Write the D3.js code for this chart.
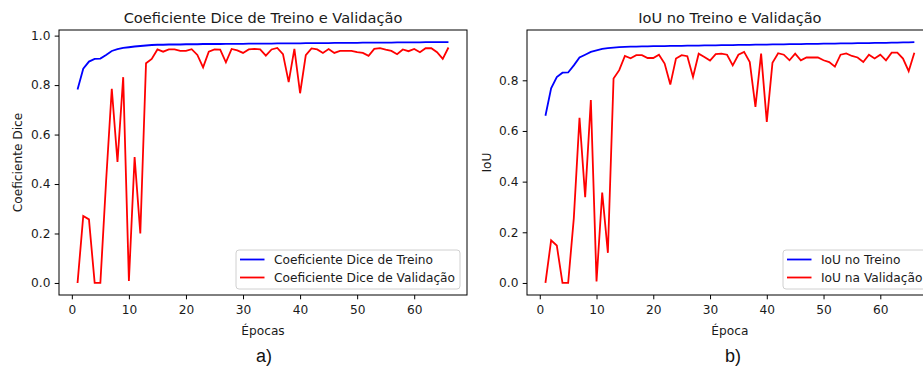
<!DOCTYPE html>
<html><head><meta charset="utf-8">
<script src="https://cdn.jsdelivr.net/npm/d3@7"></script>
<style>body{margin:0;background:#fff;overflow:hidden}svg{display:block}text{font-family:"DejaVu Sans",sans-serif;fill:#1a1a1a}</style>
</head><body><svg id="c" width="923" height="367"></svg>
<script>
const epochs = d3.range(1, 67);
const diceTrain = [0.782,0.866,0.895,0.906,0.907,0.922,0.938,0.945,0.950,0.953,0.956,0.958,0.960,0.962,0.963,0.963,0.964,0.964,0.964,0.965,0.965,0.965,0.966,0.966,0.966,0.966,0.967,0.967,0.967,0.967,0.968,0.968,0.968,0.968,0.968,0.969,0.969,0.969,0.969,0.969,0.970,0.970,0.970,0.970,0.970,0.971,0.971,0.971,0.971,0.971,0.972,0.972,0.972,0.972,0.972,0.972,0.973,0.973,0.973,0.973,0.973,0.974,0.974,0.974,0.974,0.974];
const diceVal = [0.0,0.271,0.257,0.0,0.0,0.41,0.785,0.489,0.832,0.008,0.509,0.200,0.888,0.906,0.944,0.935,0.944,0.944,0.938,0.938,0.945,0.922,0.872,0.935,0.944,0.943,0.892,0.946,0.940,0.930,0.944,0.946,0.944,0.919,0.944,0.950,0.925,0.812,0.946,0.767,0.921,0.948,0.944,0.930,0.946,0.930,0.938,0.938,0.938,0.933,0.930,0.918,0.946,0.949,0.943,0.938,0.925,0.944,0.937,0.946,0.933,0.949,0.949,0.933,0.906,0.952];
const iouTrain = [0.660,0.768,0.813,0.830,0.831,0.859,0.890,0.901,0.912,0.918,0.924,0.927,0.929,0.931,0.932,0.933,0.933,0.934,0.934,0.935,0.935,0.935,0.936,0.936,0.936,0.937,0.937,0.937,0.938,0.938,0.938,0.939,0.939,0.939,0.940,0.940,0.940,0.941,0.941,0.941,0.942,0.942,0.942,0.943,0.943,0.943,0.944,0.944,0.944,0.945,0.945,0.945,0.946,0.946,0.946,0.947,0.947,0.947,0.948,0.948,0.948,0.949,0.949,0.950,0.950,0.951];
const iouVal = [0.0,0.168,0.148,0.0,0.0,0.256,0.652,0.339,0.722,0.006,0.357,0.119,0.807,0.840,0.896,0.887,0.899,0.899,0.888,0.888,0.901,0.866,0.783,0.886,0.899,0.895,0.813,0.905,0.892,0.878,0.903,0.905,0.901,0.859,0.901,0.912,0.872,0.695,0.905,0.636,0.869,0.907,0.901,0.879,0.905,0.879,0.890,0.890,0.890,0.879,0.872,0.854,0.901,0.906,0.896,0.890,0.872,0.901,0.886,0.901,0.879,0.909,0.909,0.886,0.836,0.909];
const xTicks = [0,10,20,30,40,50,60];
const diceYTicks = [0.0,0.2,0.4,0.6,0.8,1.0];
const iouYTicks = [0.0,0.2,0.4,0.6,0.8];

const svg = d3.select("#c");
const FS = 12.2;

function panel(o) {
  const x = d3.scaleLinear().domain([1 - 3.25, 66 + 3.25]).range([o.left, o.right]);
  const ymax = d3.max(o.train.concat(o.val)), ymin = 0, m = (ymax - ymin) * 0.05;
  const y = d3.scaleLinear().domain([ymin - m, ymax + m]).range([295, 30]);
  const g = svg.append("g");
  const line = d3.line().x((d, i) => x(epochs[i])).y(d => y(d));
  g.append("path").datum(o.train).attr("d", line).attr("fill", "none").attr("stroke", "#0000ff").attr("stroke-width", 1.8);
  g.append("path").datum(o.val).attr("d", line).attr("fill", "none").attr("stroke", "#ff0000").attr("stroke-width", 1.8);
  g.append("rect").attr("x", o.left).attr("y", 30).attr("width", o.right - o.left).attr("height", 265)
    .attr("fill", "none").attr("stroke", "#000").attr("stroke-width", 1);
  const ax = g.append("g").attr("transform", "translate(0,295)")
    .call(d3.axisBottom(x).tickValues(xTicks).tickSize(4.3).tickPadding(6.5).tickFormat(d3.format("d")));
  const ay = g.append("g").attr("transform", `translate(${o.left},0)`)
    .call(d3.axisLeft(y).tickValues(o.yTicks).tickSize(4.3).tickPadding(4.3).tickFormat(d3.format(".1f")));
  [ax, ay].forEach(a => { a.select(".domain").remove(); a.selectAll("line").attr("stroke", "#000").attr("stroke-width", 1);
    a.selectAll("text").attr("font-size", FS).attr("font-family", "DejaVu Sans").attr("fill", "#1a1a1a"); });
  g.append("text").attr("x", (o.left + o.right) / 2).attr("y", 23).attr("text-anchor", "middle").attr("font-size", 14.6).text(o.title);
  g.append("text").attr("x", (o.left + o.right) / 2).attr("y", 335).attr("text-anchor", "middle").attr("font-size", FS).text(o.xlabel);
  g.append("text").attr("transform", `translate(${o.ylabX},162.5) rotate(-90)`).attr("text-anchor", "middle").attr("font-size", FS).text(o.ylabel);
  g.append("text").attr("x", o.capX).attr("y", 362).attr("text-anchor", "middle").attr("font-size", 18)
    .style("font-family", "'Liberation Sans', Arial, sans-serif").style("fill", "#111").text(o.cap);
  const L = g.append("g");
  L.append("rect").attr("x", o.legX).attr("y", 250).attr("width", o.legW).attr("height", 39).attr("rx", 3)
    .attr("fill", "#fff").attr("fill-opacity", 0.8).attr("stroke", "#d0d0d0").attr("stroke-width", 1);
  [[o.names[0], "#0000ff", 259.5], [o.names[1], "#ff0000", 277.5]].forEach(([t, c, yy]) => {
    L.append("line").attr("x1", o.legX + 4).attr("x2", o.legX + 28.5).attr("y1", yy).attr("y2", yy).attr("stroke", c).attr("stroke-width", 1.8);
    L.append("text").attr("x", o.legX + 38).attr("y", yy + 4.4).attr("font-size", FS).text(t);
  });
}

panel({left: 59, right: 467, train: diceTrain, val: diceVal, yTicks: diceYTicks,
  title: "Coeficiente Dice de Treino e Validação", xlabel: "Épocas", ylabel: "Coeficiente Dice",
  ylabX: 21.5, cap: "a)", capX: 264, legX: 236, legW: 224,
  names: ["Coeficiente Dice de Treino", "Coeficiente Dice de Validação"]});
panel({left: 527, right: 932.8, train: iouTrain, val: iouVal, yTicks: iouYTicks,
  title: "IoU no Treino e Validação", xlabel: "Época", ylabel: "IoU",
  ylabX: 491, cap: "b)", capX: 733, legX: 783, legW: 150,
  names: ["IoU no Treino", "IoU na Validação"]});
</script></body></html>
